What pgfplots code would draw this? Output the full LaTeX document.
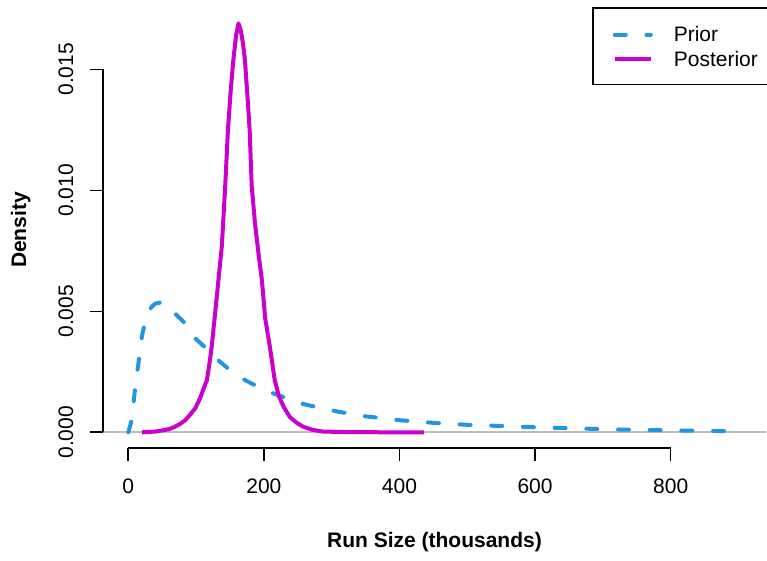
\documentclass[border=0pt]{standalone}
\usepackage{pgfplots}
\pgfplotsset{compat=1.18}
\usepackage{fontspec}
\setmainfont{Liberation Sans}
\definecolor{priorblue}{HTML}{2196E3}
\definecolor{postmag}{HTML}{CC00CC}
\definecolor{rgray}{HTML}{BEBEBE}
\begin{document}
\fontsize{10.5bp}{12.8bp}\selectfont
\begin{tikzpicture}[font=\fontsize{10.5bp}{12.8bp}\selectfont]
\useasboundingbox (0,0) rectangle (383.5bp,280.5bp);
\begin{axis}[
  at={(51.5bp,56.5bp)}, anchor=south west,
  scale only axis, width=331.5bp, height=218bp,
  xmin=-37.3, xmax=940.6, ymin=-0.000649, ymax=0.01737,
  clip=false,
  axis line style={draw=none},
  tick pos=left, tick align=outside,
  major tick length=6.5bp,
  tick style={black, line width=0.8bp},
  xtick={0,200,400,600,800},
  ytick={0,0.005,0.01,0.015},
  scaled y ticks=false,
  /pgf/number format/assume math mode=true,
  yticklabel style={/pgf/number format/.cd, fixed, fixed zerofill, precision=3, /tikz/.cd,
     inner sep=0pt, xshift=-8.5bp, rotate=90, anchor=base},
  xticklabel style={inner sep=0pt, yshift=-8.5bp, anchor=north},
  xlabel={\bfseries Run Size (thousands)},
  ylabel={\bfseries Density},
  xlabel style={at={(axis description cs:0.5,-0.2278)}, anchor=base, inner sep=0pt},
  ylabel style={at={(axis description cs:-0.1161,0.5)}, anchor=base, inner sep=0pt},
  legend style={at={(axis description cs:0.7376,1.0115)}, anchor=north west,
     draw=black, line width=0.8bp, fill=white,
     inner xsep=5bp, inner ysep=8.2bp,
     nodes={inner sep=0pt, text height=8.9bp, text depth=0bp, anchor=base west},
     row sep=2.2bp,
     /tikz/every odd column/.append style={column sep=9.5bp}},
  legend cell align=left,
  legend image code/.code={\path (0bp,0bp) (24bp,0bp); \draw[#1] (5bp,3.7bp) -- (23bp,3.7bp);},
]
\draw[rgray, line width=0.8bp] (axis cs:-37.3,0) -- (axis cs:940.6,0);
\addplot[priorblue, line width=2bp, line cap=round, line join=round, dash pattern=on 5.5bp off 10.35bp] coordinates {
(0,0) (5,0.0005) (10,0.0018) (15,0.00286) (20,0.00395) (25,0.0046) (30,0.005) (35,0.0052)
(40,0.00532) (47,0.00536) (55,0.0053) (63,0.0051) (71,0.00485) (84,0.0045) (100,0.00385)
(115,0.00347) (135,0.00292) (150,0.00257) (172,0.00216) (190,0.0019) (214,0.00161)
(234,0.0014) (258,0.00117) (278,0.00104) (310,0.00085) (350,0.00066) (400,0.0005)
(450,0.00039) (500,0.00031) (550,0.00026) (600,0.00021) (650,0.00017) (700,0.00013)
(750,0.0001) (800,0.00008) (850,0.00006) (900,0.00004)
};
\addlegendentry{Prior}
\addplot[postmag, line width=2bp, line join=round] coordinates {
(20,0) (40,0.00003) (55,0.0001) (61,0.00014) (68,0.00022) (76,0.00034) (84,0.0005) (91,0.00072)
(99,0.001) (106,0.00142) (111,0.0018) (116,0.00216) (120,0.0029) (123,0.00353) (128,0.0049)
(133,0.0063) (138,0.0077) (143,0.0102) (147,0.0125) (151,0.0141) (155,0.0154) (159,0.0164)
(162.5,0.0169) (166,0.0166) (169,0.0161) (172,0.0154) (176,0.0138) (179,0.0125) (182,0.0102)
(187,0.0086) (192,0.0074) (197,0.0063) (202,0.0047) (209,0.0035) (216,0.00216) (222,0.0015)
(229,0.00106) (238,0.00064) (248,0.0004) (258,0.00023) (272,0.0001) (287,0.00003) (320,0.00001)
(380,0) (436,0)
};
\addlegendentry{Posterior}
\draw[black, line width=0.8bp] (axis cs:0,-0.000649) -- (axis cs:800,-0.000649);
\draw[black, line width=0.8bp] (axis cs:-37.3,0) -- (axis cs:-37.3,0.015);
\end{axis}
\end{tikzpicture}
\end{document}
